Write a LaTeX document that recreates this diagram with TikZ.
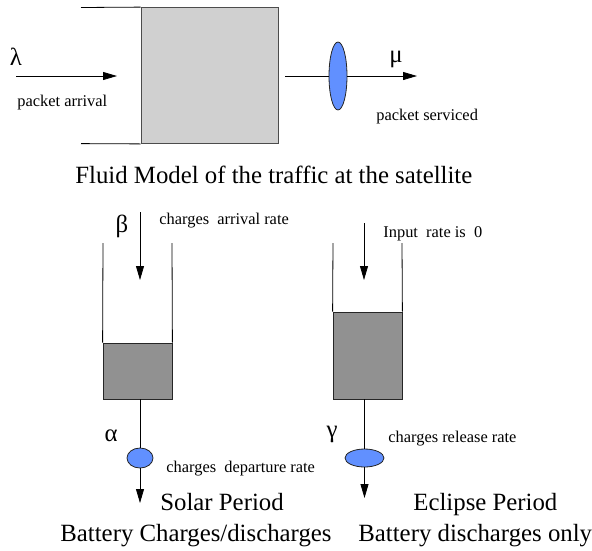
\documentclass[tikz,border=0pt]{standalone}
\usepackage{fontspec}
\setmainfont{Liberation Serif}
\usetikzlibrary{shapes,arrows.meta,positioning}
\definecolor{serverblue}{RGB}{97,144,255}
\definecolor{queuegray}{RGB}{208,208,208}
\definecolor{chargegray}{RGB}{145,145,145}
\tikzstyle{small text}=[font=\fontsize{16.4}{18}\selectfont,inner sep=0pt,anchor=base west]
\tikzstyle{big text}=[font=\fontsize{24.8}{28}\selectfont,inner sep=0pt,anchor=base west]
\tikzstyle{greek}=[font=\fontsize{24.8}{28}\selectfont,inner sep=0pt]
\tikzstyle{arrow}=[-{Triangle[length=14pt,width=8pt]}]
\tikzstyle{server}=[ellipse,draw=black!85,fill=serverblue,inner sep=0pt]
\tikzstyle{battery}=[draw=black!85,fill=chargegray,inner sep=0pt,minimum width=69pt]

\begin{document}
\begin{tikzpicture}[x=1pt,y=-1pt,line width=0.8pt]
  \useasboundingbox (0,0) rectangle (592,550);

  % Queue of packets at the satellite
  \node[draw=black!70,fill=queuegray,inner sep=0pt,minimum width=137pt,minimum height=136pt] (queue) at (209.5,75.5) {};
  \coordinate (qtop) at (81,7.5);
  \coordinate (qbot) at (81,143.6);
  \draw (qtop) -- (queue.north west);
  \draw (qbot) -- (queue.south west);

  \coordinate (arrin) at (16,76);
  \coordinate (arrinend) at (117,76);
  \draw[arrow] (arrin) -- (arrinend);
  \node[greek] (lambda) at (16,57) {λ};
  \node[small text] (arrival) at (17,106) {packet arrival};

  \node[server,minimum width=18pt,minimum height=68pt] (server) at (338,76) {};
  \coordinate (qout) at (285,76);
  \coordinate (srvout) at (417,76);
  \draw (qout) -- (server);
  \draw[arrow] (server) -- (srvout);
  \node[greek] (mu) at (396,59) {μ};
  \node[small text] (serviced) at (376,120) {packet serviced};

  \node[big text] (title) at (75,183) {Fluid Model of the traffic at the satellite};

  % Solar period
  \node[battery,minimum height=56pt] (solarcharge) at (137.5,371) {};
  \coordinate (solartl) at (103,243);
  \coordinate (solartr) at (172,243);
  \draw (solartl) -- (solarcharge.north west);
  \draw (solartr) -- (solarcharge.north east);
  \coordinate (solarin) at (140,212);
  \coordinate (solarinend) at (140,280);
  \draw[arrow] (solarin) -- (solarinend);
  \node[greek] (beta) at (122,226) {β};
  \node[small text] (solarrate) at (159,224) {charges~ arrival rate};

  \node[server,minimum width=26pt,minimum height=20pt] (solarvalve) at (140,458) {};
  \coordinate (solarout) at (140,503);
  \draw (solarvalve |- solarcharge.south) -- (solarvalve);
  \draw[arrow] (solarvalve) -- (solarout);
  \node[greek] (alpha) at (111,436) {α};
  \node[small text] (solardep) at (166,472) {charges~ departure rate};
  \node[big text] (solar) at (160,510) {Solar Period};
  \node[big text] (solarnote) at (60,541) {Battery Charges/discharges};

  % Eclipse period
  \node[battery,minimum height=87pt] (eclipsecharge) at (367.5,355.5) {};
  \coordinate (eclipsetl) at (333,243);
  \coordinate (eclipsetr) at (402,243);
  \draw (eclipsetl) -- (eclipsecharge.north west);
  \draw (eclipsetr) -- (eclipsecharge.north east);
  \coordinate (eclipsein) at (364,223);
  \coordinate (eclipseinend) at (364,280);
  \draw[arrow] (eclipsein) -- (eclipseinend);
  \node[small text] (eclipserate) at (383,237) {Input~ rate is~ 0};

  \node[server,minimum width=39pt,minimum height=18pt] (eclipsevalve) at (364.5,458) {};
  \coordinate (eclipseout) at (364.5,498);
  \draw (eclipsevalve |- eclipsecharge.south) -- (eclipsevalve);
  \draw[arrow] (eclipsevalve) -- (eclipseout);
  \node[greek] (gamma) at (332,434) {γ};
  \node[small text] (eclipserel) at (388,442) {charges release rate};
  \node[big text] (eclipse) at (413,510) {Eclipse Period};
  \node[big text] (eclipsenote) at (358,541) {Battery discharges only};
\end{tikzpicture}
\end{document}
